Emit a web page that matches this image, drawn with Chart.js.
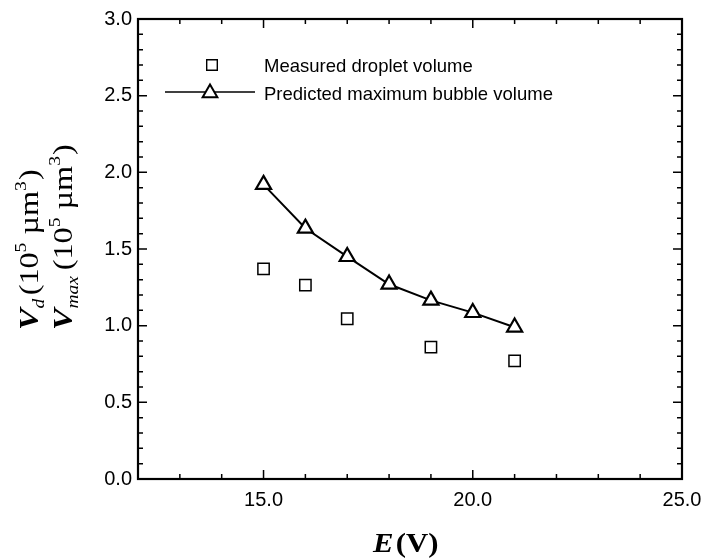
<!DOCTYPE html>
<html>
<head>
<meta charset="utf-8">
<script src="https://cdn.jsdelivr.net/npm/chart.js@4.4.0/dist/chart.umd.min.js"></script>
<style>
  html, body { margin: 0; padding: 0; background: #fff; }
  #wrap { width: 701px; height: 560px; position: relative; }
</style>
</head>
<body>
<div id="wrap"><canvas id="c" width="701" height="560"></canvas></div>
<script>
// ---- data ----
const xMeasured = [15, 16, 17, 19, 21];
const measured = [1.37, 1.265, 1.045, 0.86, 0.77];
const xPredicted = [15, 16, 17, 18, 19, 20, 21];
const predicted = [1.92, 1.635, 1.45, 1.27, 1.165, 1.085, 0.99];
const xTickValues = [15, 20, 25];
const yTickValues = [0, 0.5, 1.0, 1.5, 2.0, 2.5, 3.0];
const seriesNames = ['Measured droplet volume', 'Predicted maximum bubble volume'];

const X_MIN = 12, X_MAX = 25, Y_MIN = 0, Y_MAX = 3;
const SANS = '"Liberation Sans", Arial, sans-serif';
const SERIF = '"Liberation Serif", "Times New Roman", serif';

// draw a run of text segments along a baseline, stretched by sx along the baseline
function drawSegments(ctx, x, y, segs, sx) {
  ctx.save();
  ctx.translate(x, y);
  ctx.scale(sx || 1, 1);
  let cx = 0;
  for (const s of segs) {
    ctx.font = s.font;
    ctx.fillText(s.t, cx, s.dy || 0);
    cx += ctx.measureText(s.t).width + (s.gap || 0);
  }
  ctx.restore();
}

const decorPlugin = {
  id: 'decor',
  afterDraw(chart) {
    const ctx = chart.ctx;
    const a = chart.chartArea;
    const xs = chart.scales.x, ys = chart.scales.y;
    ctx.save();
    ctx.strokeStyle = '#000';
    ctx.fillStyle = '#000';
    // frame
    ctx.lineWidth = 2.2;
    ctx.strokeRect(a.left, a.top, a.right - a.left, a.bottom - a.top);
    // inward ticks
    ctx.lineWidth = 1.5;
    ctx.beginPath();
    for (let v = X_MIN + 1; v < X_MAX; v++) {
      const px = xs.getPixelForValue(v);
      const len = (v % 5 === 0) ? 9 : 5;
      ctx.moveTo(px, a.bottom); ctx.lineTo(px, a.bottom - len);
      ctx.moveTo(px, a.top); ctx.lineTo(px, a.top + len);
    }
    for (let i = 1; i < 30; i++) {
      const v = i / 10;
      const py = ys.getPixelForValue(v);
      const len = (i % 5 === 0) ? 9 : 5;
      ctx.moveTo(a.left, py); ctx.lineTo(a.left + len, py);
      ctx.moveTo(a.right, py); ctx.lineTo(a.right - len, py);
    }
    ctx.stroke();

    // legend
    const H = Chart.helpers;
    ctx.fillStyle = '#fff';
    ctx.lineWidth = 1.4;
    H.drawPoint(ctx, {pointStyle: 'rect', radius: 7.5, borderWidth: 1.4}, 212, 65);
    ctx.lineWidth = 1.6;
    ctx.beginPath(); ctx.moveTo(165, 92); ctx.lineTo(255, 92); ctx.stroke();
    ctx.fillStyle = '#fff';
    ctx.lineWidth = 2;
    H.drawPoint(ctx, {pointStyle: 'triangle', radius: 8.5, borderWidth: 2}, 210, 93);
    ctx.fillStyle = '#000';
    ctx.font = '18.5px ' + SANS;
    ctx.textBaseline = 'alphabetic';
    ctx.textAlign = 'left';
    ctx.fillText(seriesNames[0], 264, 72);
    ctx.fillText(seriesNames[1], 264, 100);

    // x title
    drawSegments(ctx, 373, 552, [
      {t: 'E', font: 'italic bold 27px ' + SERIF, gap: 2},
      {t: '(V)', font: 'bold 27px ' + SERIF}
    ], 1.14);
    // y title (two rotated lines)
    const sup = {font: '17px ' + SERIF, dy: -12};
    ctx.save();
    ctx.translate(38, 330);
    ctx.rotate(-Math.PI / 2);
    drawSegments(ctx, 0, 0, [
      {t: 'V', font: 'italic bold 28px ' + SERIF},
      {t: 'd', font: 'italic 17px ' + SERIF, dy: 6, gap: 3},
      {t: '(10', font: '28px ' + SERIF},
      {t: '5', font: sup.font, dy: sup.dy},
      {t: ' \u00B5m', font: '28px ' + SERIF},
      {t: '3', font: sup.font, dy: sup.dy, gap: 1},
      {t: ')', font: '28px ' + SERIF}
    ], 1.15);
    ctx.restore();
    ctx.save();
    ctx.translate(72, 330);
    ctx.rotate(-Math.PI / 2);
    drawSegments(ctx, 0, 0, [
      {t: 'V', font: 'italic bold 28px ' + SERIF},
      {t: 'max', font: 'italic 17px ' + SERIF, dy: 6, gap: 5},
      {t: '(10', font: '28px ' + SERIF},
      {t: '5', font: sup.font, dy: sup.dy},
      {t: ' \u00B5m', font: '28px ' + SERIF},
      {t: '3', font: sup.font, dy: sup.dy, gap: 1},
      {t: ')', font: '28px ' + SERIF}
    ], 1.15);
    ctx.restore();
    ctx.restore();
  }
};

new Chart(document.getElementById('c'), {
  type: 'scatter',
  data: {
    datasets: [
      {
        label: seriesNames[0],
        data: xMeasured.map((x, i) => ({x, y: measured[i]})),
        showLine: false,
        pointStyle: 'rect',
        pointRadius: 8,
        pointBorderWidth: 1.5,
        pointBorderColor: '#000',
        pointBackgroundColor: 'rgba(255,255,255,0)'
      },
      {
        label: seriesNames[1],
        data: xPredicted.map((x, i) => ({x, y: predicted[i]})),
        showLine: true,
        borderColor: '#000',
        borderWidth: 2,
        pointStyle: 'triangle',
        pointRadius: 8.7,
        pointBorderWidth: 2.2,
        pointBorderColor: '#000',
        pointBackgroundColor: '#fff'
      }
    ]
  },
  options: {
    responsive: false,
    animation: false,
    devicePixelRatio: 1,
    layout: { padding: { top: 19, right: 19, left: 0, bottom: 0 } },
    plugins: { legend: { display: false }, tooltip: { enabled: false } },
    scales: {
      x: {
        type: 'linear', min: X_MIN, max: X_MAX,
        grid: { display: false, drawTicks: false },
        border: { display: false },
        afterBuildTicks: s => { s.ticks = xTickValues.map(v => ({value: v})); },
        afterFit: s => { s.height = 81; s.paddingRight = 0; s.paddingLeft = 0; },
        ticks: {
          padding: 9,
          color: '#000',
          maxRotation: 0,
          font: { family: SANS, size: 20 },
          callback: v => Number(v).toFixed(1)
        }
      },
      y: {
        type: 'linear', min: Y_MIN, max: Y_MAX,
        grid: { display: false, drawTicks: false },
        border: { display: false },
        afterBuildTicks: s => { s.ticks = yTickValues.map(v => ({value: v})); },
        afterFit: s => { s.width = 138; s.paddingTop = 0; s.paddingBottom = 0; },
        ticks: {
          padding: 6,
          color: '#000',
          font: { family: SANS, size: 20 },
          callback: v => Number(v).toFixed(1)
        }
      }
    }
  },
  plugins: [decorPlugin]
});
</script>
</body>
</html>
